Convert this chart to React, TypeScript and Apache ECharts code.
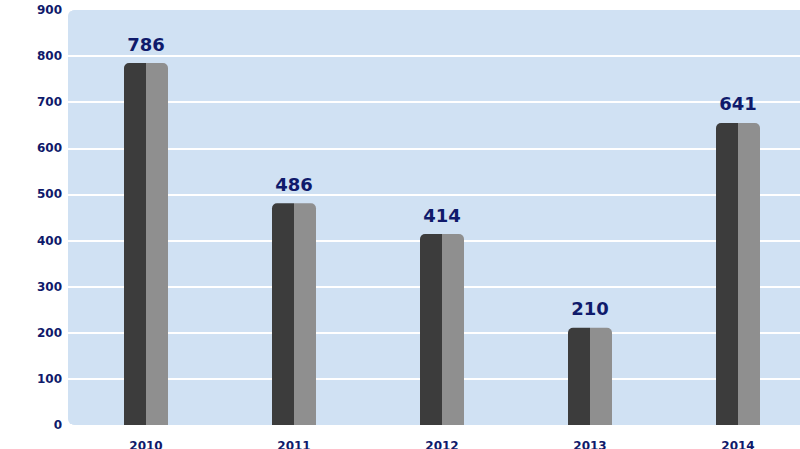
import React, { useEffect, useRef } from "react";
import * as echarts from "echarts";

const categories = ["2010", "2011", "2012", "2013", "2014"];
// Value labels printed above the bars
const labelValues = [786, 486, 414, 210, 641];
// Bar heights as drawn in the picture (the source drawing is slightly off its labels)
const barHeights = [785, 481, 414, 211, 655];
const yTicks = [0, 100, 200, 300, 400, 500, 600, 700, 800, 900];

const NAVY = "#0f1a6b";
const DARK = "#3c3c3c";
const LIGHT = "#8f8f8f";
const BG = "#d0e1f3";

export default function App() {
  const ref = useRef<HTMLDivElement>(null);
  useEffect(() => {
    document.body.style.margin = "0";
    const chart = echarts.init(ref.current!, undefined, { renderer: "svg" });
    const barColor = {
      type: "linear",
      x: 0,
      y: 0,
      x2: 1,
      y2: 0,
      colorStops: [
        { offset: 0, color: DARK },
        { offset: 0.5, color: DARK },
        { offset: 0.5, color: LIGHT },
        { offset: 1, color: LIGHT },
      ],
    };
    chart.setOption({
      animation: false,
      textStyle: { fontFamily: "DejaVu Sans" },
      graphic: [
        {
          type: "rect",
          z: -100,
          silent: true,
          shape: { x: 68, y: 10, width: 800, height: 415, r: [6, 0, 0, 6] },
          style: { fill: BG },
        },
      ],
      grid: {
        left: 72,
        width: 740,
        top: 10,
        bottom: 24,
        containLabel: false,
        outerBoundsMode: "none",
      },
      xAxis: {
        type: "category",
        data: categories,
        axisLine: { show: false },
        axisTick: { show: false },
        axisLabel: {
          color: NAVY,
          fontWeight: "bold",
          fontSize: 12,
          margin: 15,
          fontFamily: "DejaVu Sans",
        },
      },
      yAxis: {
        type: "value",
        min: yTicks[0],
        max: yTicks[yTicks.length - 1],
        interval: 100,
        axisLine: { show: false },
        axisTick: { show: true, length: 4, lineStyle: { color: "#ffffff", width: 2 } },
        axisLabel: {
          color: NAVY,
          fontWeight: "bold",
          fontSize: 12,
          margin: 10,
          fontFamily: "DejaVu Sans",
        },
        splitLine: {
          show: true,
          showMinLine: false,
          showMaxLine: false,
          lineStyle: { color: "#ffffff", width: 2 },
        },
      },
      series: [
        {
          type: "bar",
          data: barHeights,
          barWidth: 44,
          itemStyle: { color: barColor, borderRadius: [5, 5, 0, 0] },
          label: {
            show: true,
            position: "top",
            distance: 10,
            color: NAVY,
            fontWeight: "bold",
            fontSize: 18,
            fontFamily: "DejaVu Sans",
            formatter: (p: any) => String(labelValues[p.dataIndex]),
          },
        },
      ],
    });
    return () => chart.dispose();
  }, []);
  return <div ref={ref} style={{ width: 800, height: 449 }} />;
}
